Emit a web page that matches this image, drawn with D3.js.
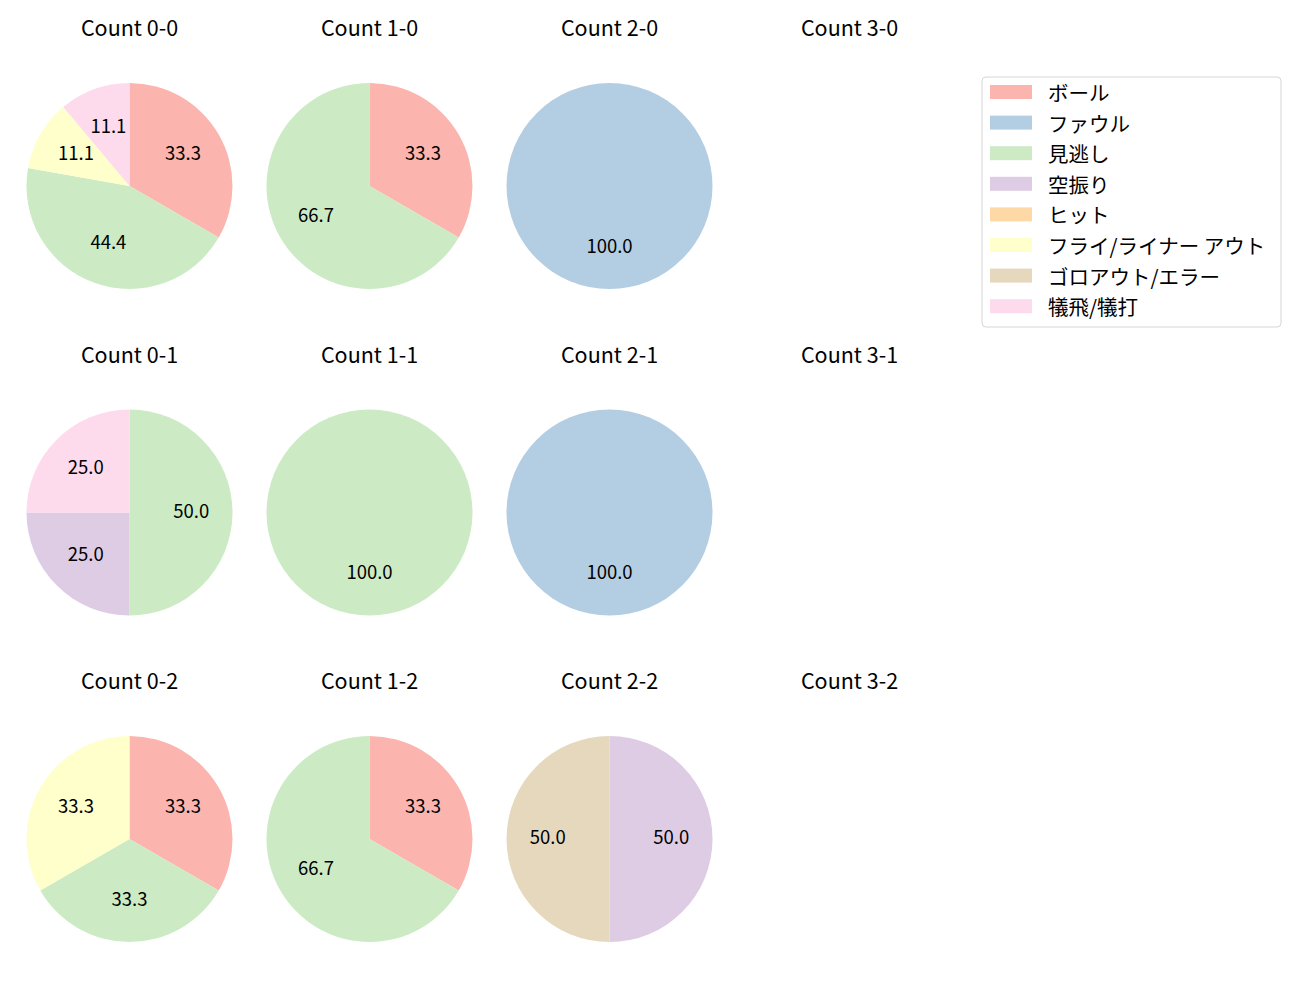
<!DOCTYPE html>
<html>
<head>
<meta charset="utf-8">
<script src="https://cdn.jsdelivr.net/npm/d3@7"></script>
<style>
  body { margin: 0; background: #fff; }
  text { font-family: "Noto Sans CJK JP", "Noto Sans", sans-serif; }
</style>
</head>
<body>
<svg id="chart" width="1300" height="1000"></svg>
<script>
const categories = ["ボール", "ファウル", "見逃し", "空振り", "ヒット", "フライ/ライナー アウト", "ゴロアウト/エラー", "犠飛/犠打"];
const colors = ["#fbb4ae", "#b3cde3", "#ccebc5", "#decbe4", "#fed9a6", "#ffffcc", "#e5d8bd", "#fddaec"];

// counts per category, same order as categories
const counts = ["0-0", "1-0", "2-0", "3-0", "0-1", "1-1", "2-1", "3-1", "0-2", "1-2", "2-2", "3-2"];
const count00 = [3, 0, 4, 0, 0, 1, 0, 1];
const count10 = [1, 0, 2, 0, 0, 0, 0, 0];
const count20 = [0, 1, 0, 0, 0, 0, 0, 0];
const count30 = [0, 0, 0, 0, 0, 0, 0, 0];
const count01 = [0, 0, 2, 1, 0, 0, 0, 1];
const count11 = [0, 0, 1, 0, 0, 0, 0, 0];
const count21 = [0, 1, 0, 0, 0, 0, 0, 0];
const count31 = [0, 0, 0, 0, 0, 0, 0, 0];
const count02 = [1, 0, 1, 0, 0, 1, 0, 0];
const count12 = [1, 0, 2, 0, 0, 0, 0, 0];
const count22 = [0, 0, 0, 1, 0, 0, 1, 0];
const count32 = [0, 0, 0, 0, 0, 0, 0, 0];
const values = [count00, count10, count20, count30, count01, count11, count21, count31, count02, count12, count22, count32];

const svg = d3.select("#chart");
const colX = d3.scaleLinear().domain([0, 3]).range([129.5, 849.5]);
const rowY = d3.scaleLinear().domain([0, 2]).range([186, 839]);
const radius = 103;

const color = d3.scaleOrdinal().domain(categories).range(colors);
const pie = d3.pie().sort(null).value(d => d.v);
const arc = d3.arc().innerRadius(0).outerRadius(radius);
const labelArc = d3.arc().innerRadius(radius * 0.6).outerRadius(radius * 0.6);

counts.forEach((name, i) => {
  const col = i % 4, row = Math.floor(i / 4);
  const cx = colX(col), cy = rowY(row);

  svg.append("text")
    .attr("x", cx).attr("y", cy - 150)
    .attr("text-anchor", "middle")
    .attr("font-size", 21.5)
    .attr("fill", "#000")
    .text("Count " + name);

  const data = categories.map((c, k) => ({ c: c, v: values[i][k] })).filter(d => d.v > 0);
  const total = d3.sum(data, d => d.v);
  if (!total) return;

  const g = svg.append("g").attr("transform", `translate(${cx},${cy})`);
  const arcs = pie(data);
  g.selectAll("path").data(arcs).join("path")
    .attr("d", arc)
    .attr("fill", d => color(d.data.c));
  g.selectAll("text").data(arcs).join("text")
    .attr("transform", d => `translate(${labelArc.centroid(d)})`)
    .attr("text-anchor", "middle")
    .attr("dominant-baseline", "central")
    .attr("dy", -3)
    .attr("font-size", 18.5)
    .text(d => (d.data.v / total * 100).toFixed(1));
});

// legend
const legend = svg.append("g").attr("transform", "translate(982,77)");
legend.append("rect")
  .attr("width", 299).attr("height", 250)
  .attr("rx", 4)
  .attr("fill", "#fff").attr("stroke", "#d6d6d6");
const item = legend.selectAll("g.item").data(categories).join("g")
  .attr("class", "item")
  .attr("transform", (d, k) => `translate(0,${15 + k * 30.6})`);
item.append("rect")
  .attr("x", 8).attr("y", -7).attr("width", 42).attr("height", 14)
  .attr("fill", d => color(d));
item.append("text")
  .attr("x", 66).attr("dominant-baseline", "central")
  .attr("font-size", 20.5)
  .text(d => d);
</script>
</body>
</html>
